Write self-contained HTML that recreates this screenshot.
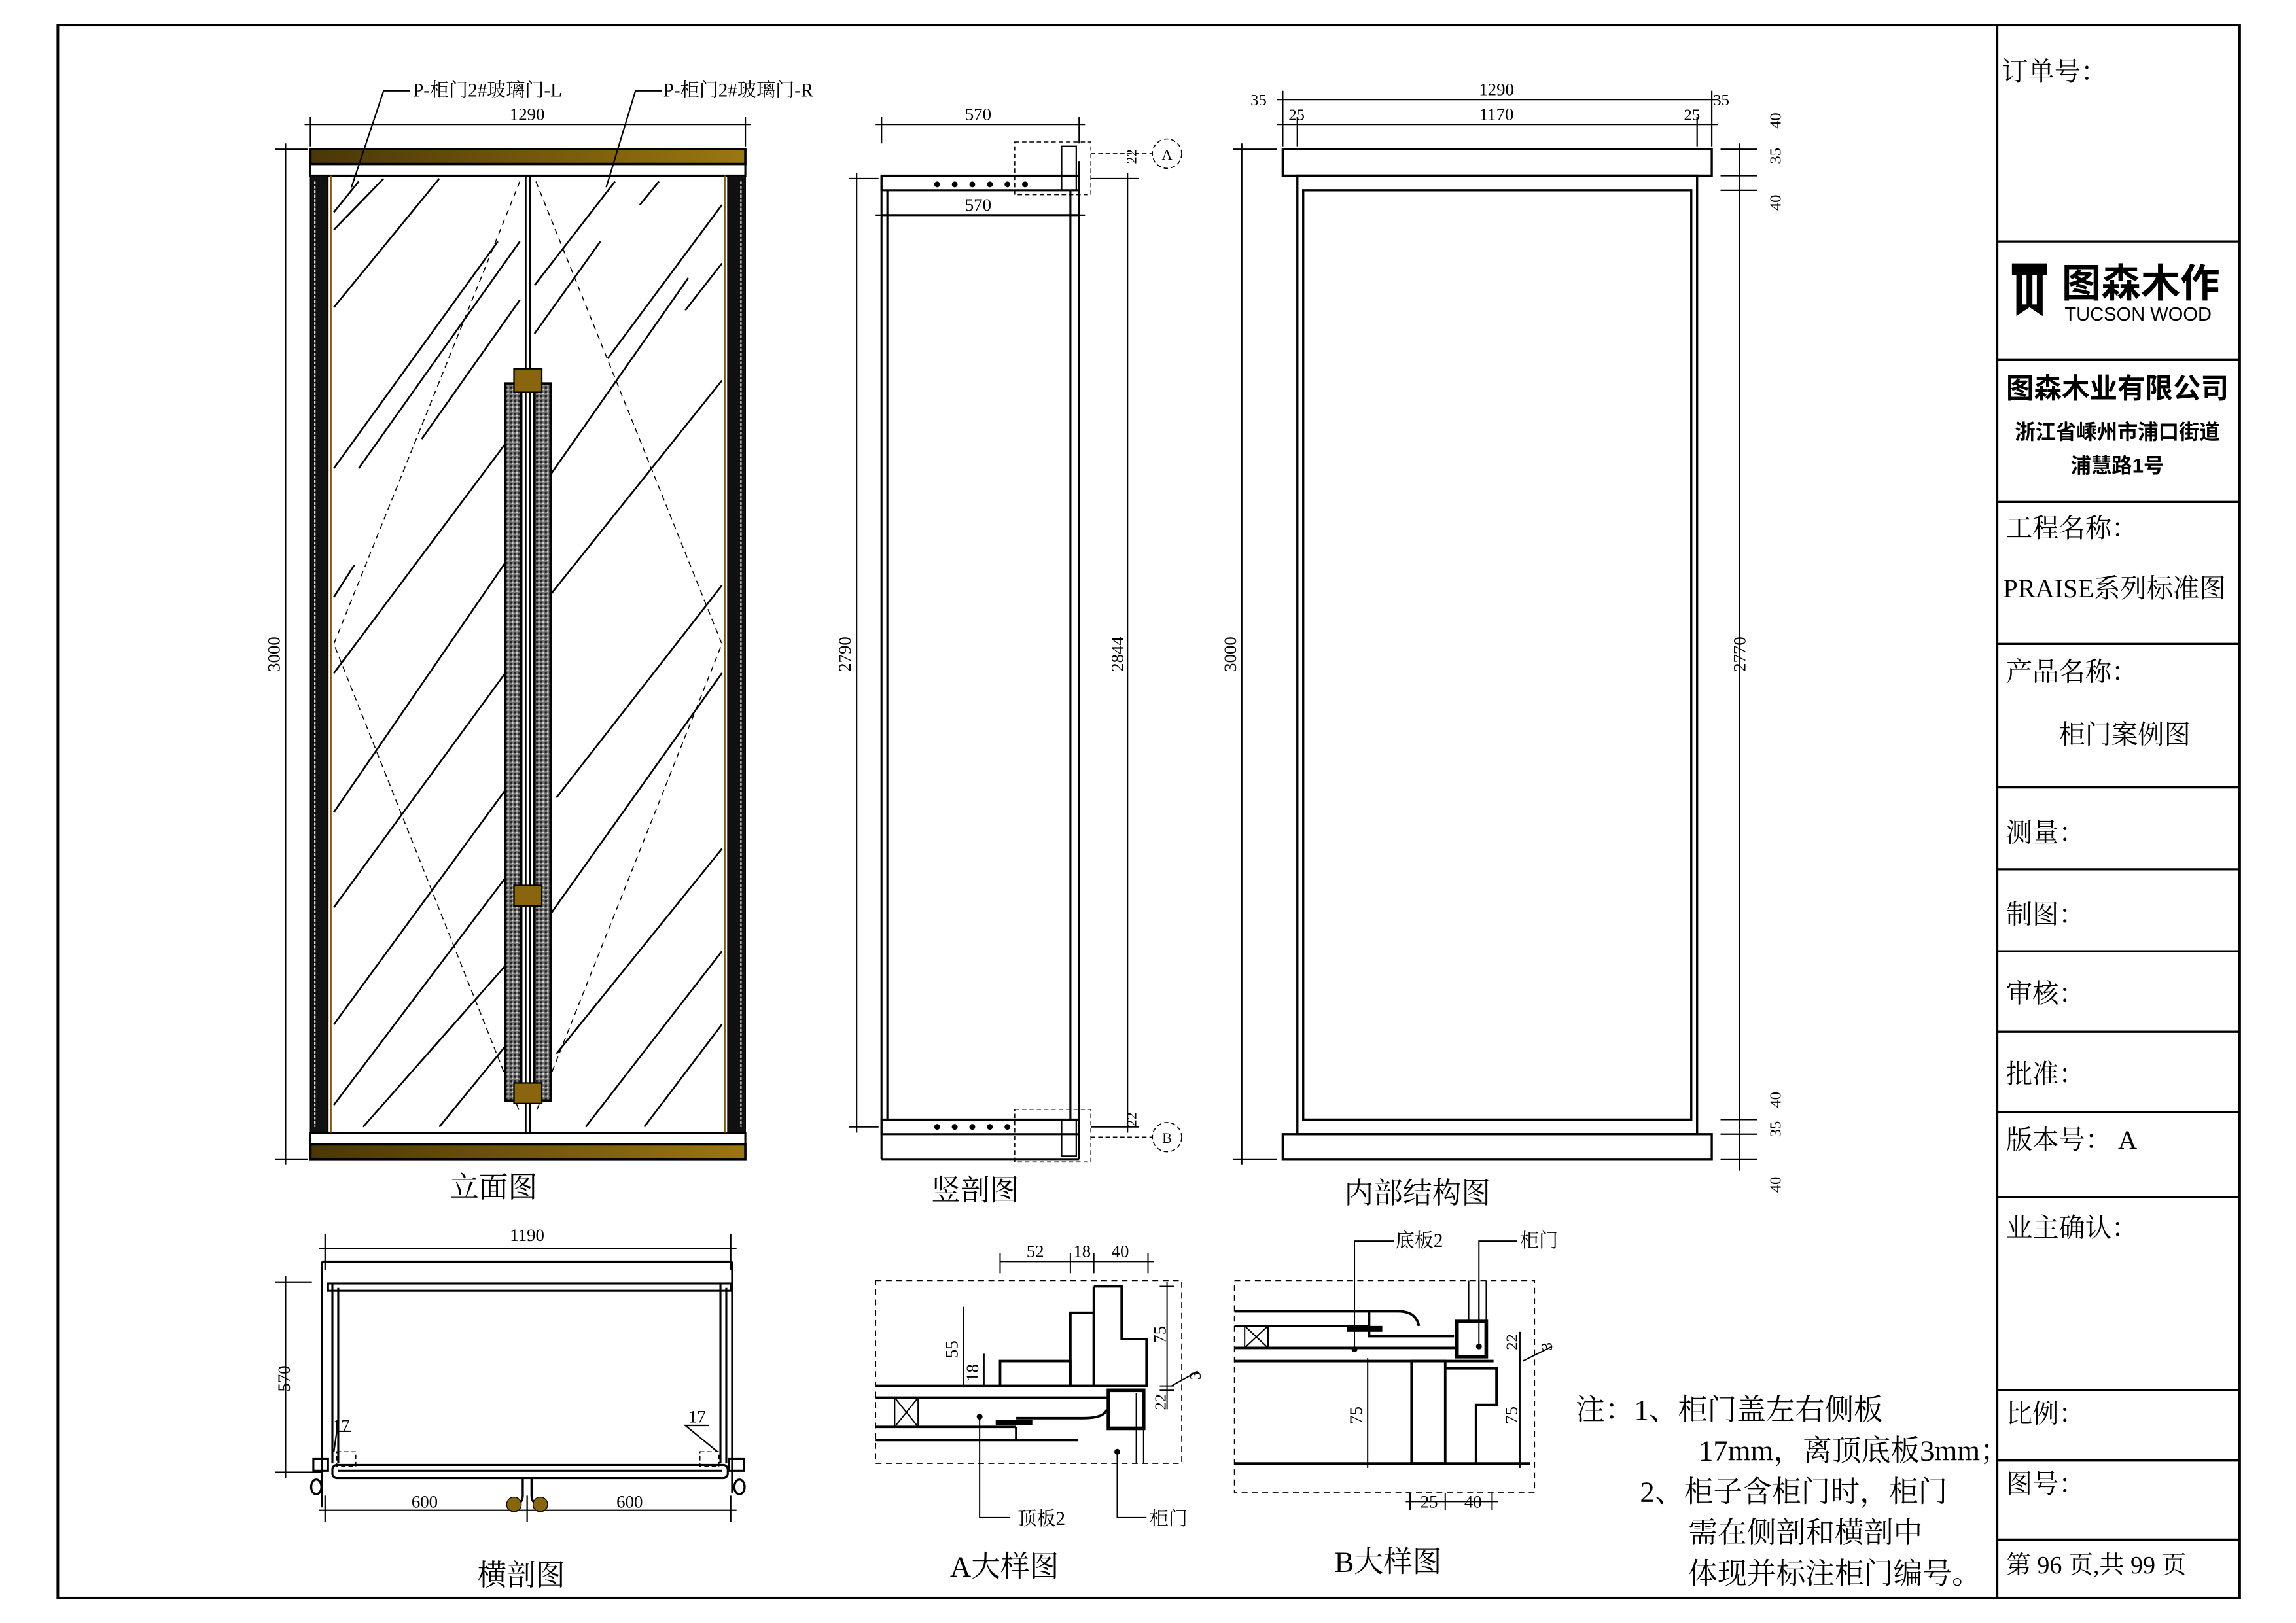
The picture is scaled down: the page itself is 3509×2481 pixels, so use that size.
<!DOCTYPE html>
<html><head><meta charset="utf-8"><style>
html,body{margin:0;padding:0;background:#fff;}
svg{display:block;}
text{font-family:"Liberation Serif","Noto Serif CJK SC",serif;fill:#000;}
.s{font-family:"Liberation Sans","Noto Sans CJK SC",sans-serif;}
</style></head><body>
<svg width="3509" height="2481" viewBox="0 0 1568 1109" preserveAspectRatio="none" xmlns="http://www.w3.org/2000/svg">
<defs>
<linearGradient id="g" x1="0" x2="1"><stop offset="0" stop-color="#4a3608"/><stop offset="1" stop-color="#9a7710"/></linearGradient>
<pattern id="sp" width="3" height="3" patternUnits="userSpaceOnUse"><rect width="3" height="3" fill="#777"/><rect width="1.5" height="1.5" fill="#222"/><rect x="1.5" y="1.5" width="1" height="1" fill="#ddd"/></pattern>
</defs>
<rect width="1568" height="1109" fill="#fff"/>
<!-- frame -->
<rect x="39.5" y="17" width="1490" height="1075" fill="none" stroke="#000" stroke-width="1.8"/>
<g stroke="#000" stroke-width="1.5">
<line x1="1364" y1="17" x2="1364" y2="1092"/>
<line x1="1364" y1="165" x2="1529" y2="165"/>
<line x1="1364" y1="246" x2="1529" y2="246"/>
<line x1="1364" y1="343" x2="1529" y2="343"/>
<line x1="1364" y1="440" x2="1529" y2="440"/>
<line x1="1364" y1="538" x2="1529" y2="538"/>
<line x1="1364" y1="594" x2="1529" y2="594"/>
<line x1="1364" y1="650" x2="1529" y2="650"/>
<line x1="1364" y1="705" x2="1529" y2="705"/>
<line x1="1364" y1="760" x2="1529" y2="760"/>
<line x1="1364" y1="818" x2="1529" y2="818"/>
<line x1="1364" y1="950" x2="1529" y2="950"/>
<line x1="1364" y1="998" x2="1529" y2="998"/>
<line x1="1364" y1="1052" x2="1529" y2="1052"/>
</g>
<!-- title block text -->
<text x="1367" y="55" font-size="18">订单号：</text>
<path d="M1374,180 h24 v8 h-3 v28 l-9,-6 l-9,6 v-28 h-3z" fill="#000"/>
<rect x="1381" y="188" width="3" height="20" fill="#fff"/><rect x="1388" y="188" width="3" height="20" fill="#fff"/>
<text x="1408" y="203" font-size="27" font-weight="bold" class="s">图森木作</text>
<text x="1410" y="219" font-size="13" class="s">TUCSON WOOD</text>
<text x="1446" y="272" font-size="19" font-weight="bold" text-anchor="middle" class="s">图森木业有限公司</text>
<text x="1446" y="300" font-size="14" font-weight="bold" text-anchor="middle" class="s">浙江省嵊州市浦口街道</text>
<text x="1446" y="323" font-size="14" font-weight="bold" text-anchor="middle" class="s">浦慧路1号</text>
<text x="1370" y="367" font-size="18">工程名称：</text>
<text x="1368" y="408" font-size="18">PRAISE系列标准图</text>
<text x="1370" y="465" font-size="18">产品名称：</text>
<text x="1451" y="508" font-size="18" text-anchor="middle">柜门案例图</text>
<text x="1370" y="575" font-size="18">测量：</text>
<text x="1370" y="631" font-size="18">制图：</text>
<text x="1370" y="685" font-size="18">审核：</text>
<text x="1370" y="740" font-size="18">批准：</text>
<text x="1370" y="785" font-size="18">版本号：  A</text>
<text x="1370" y="845" font-size="18">业主确认：</text>
<text x="1370" y="972" font-size="18">比例：</text>
<text x="1370" y="1020" font-size="18">图号：</text>
<text x="1370" y="1075" font-size="17">第 96 页,共 99 页</text>

<!-- ===== 立面图 ===== -->
<g stroke="#000" fill="none">
<rect x="212" y="102" width="297" height="10" fill="url(#g)" stroke-width="1.6"/>
<rect x="212" y="112" width="297" height="8" stroke-width="1.4"/>
<rect x="212" y="782" width="297" height="10" fill="url(#g)" stroke-width="1.6"/>
<rect x="212" y="774" width="297" height="8" stroke-width="1.4"/>
<rect x="212" y="120" width="12" height="654" fill="#111" stroke-width="0.8"/>
<rect x="497" y="120" width="12" height="654" fill="#111" stroke-width="0.8"/>
<line x1="215" y1="124" x2="215" y2="770" stroke="#ddd" stroke-width="1" stroke-dasharray="2 1"/>
<line x1="506" y1="124" x2="506" y2="770" stroke="#ddd" stroke-width="1" stroke-dasharray="2 1"/>
<line x1="226" y1="120" x2="226" y2="774" stroke="#7a5a10" stroke-width="1"/>
<line x1="495" y1="120" x2="495" y2="774" stroke="#7a5a10" stroke-width="1"/>
<line x1="359" y1="120" x2="359" y2="774" stroke-width="1.2"/>
<line x1="362" y1="120" x2="362" y2="774" stroke-width="1.2"/>
<g stroke-width="1.2">
<line x1="228" y1="145" x2="245" y2="124"/><line x1="228" y1="157" x2="262" y2="122"/><line x1="228" y1="210" x2="300" y2="122"/>
<line x1="228" y1="320" x2="340" y2="165"/><line x1="245" y1="320" x2="355" y2="165"/><line x1="288" y1="300" x2="355" y2="205"/>
<line x1="228" y1="460" x2="355" y2="290"/><line x1="228" y1="555" x2="355" y2="370"/><line x1="228" y1="620" x2="345" y2="460"/>
<line x1="228" y1="700" x2="345" y2="540"/><line x1="228" y1="755" x2="345" y2="600"/><line x1="248" y1="770" x2="345" y2="660"/>
<line x1="228" y1="408" x2="242" y2="386"/><line x1="300" y1="770" x2="345" y2="715"/>
<line x1="365" y1="228" x2="410" y2="165"/><line x1="372" y1="330" x2="470" y2="190"/><line x1="365" y1="420" x2="493" y2="260"/>
<line x1="380" y1="545" x2="493" y2="400"/><line x1="365" y1="640" x2="493" y2="460"/><line x1="380" y1="720" x2="493" y2="580"/>
<line x1="400" y1="770" x2="493" y2="650"/><line x1="440" y1="770" x2="493" y2="700"/><line x1="415" y1="245" x2="493" y2="140"/>
<line x1="437" y1="140" x2="450" y2="124"/><line x1="365" y1="195" x2="420" y2="124"/><line x1="468" y1="212" x2="493" y2="180"/>
</g>
<g stroke-width="0.7" stroke-dasharray="4 3">
<polyline points="355,124 228,440 355,760"/><polyline points="366,124 493,440 366,760"/>
</g>
<rect x="345" y="262" width="11" height="490" fill="url(#sp)" stroke-width="1.6"/>
<rect x="365" y="262" width="11" height="490" fill="url(#sp)" stroke-width="1.6"/>
<rect x="351" y="252" width="19" height="16" fill="#8a6510" stroke-width="1"/>
<rect x="351" y="605" width="19" height="14" fill="#8a6510" stroke-width="1"/>
<rect x="351" y="740" width="19" height="14" fill="#8a6510" stroke-width="1"/>
<!-- dims -->
<g stroke-width="1"><line x1="208" y1="85" x2="513" y2="85"/><line x1="212" y1="80" x2="212" y2="100"/><line x1="509" y1="80" x2="509" y2="100"/>
<line x1="195" y1="98" x2="195" y2="796"/><line x1="188" y1="102" x2="210" y2="102"/><line x1="188" y1="792" x2="210" y2="792"/>
<polyline points="240,128 262,62 280,62"/><polyline points="414,128 434,62 452,62"/></g>
</g>
<text x="360" y="82" font-size="12" text-anchor="middle">1290</text>
<text x="282" y="66" font-size="13">P-柜门2#玻璃门-L</text>
<text x="453" y="66" font-size="13">P-柜门2#玻璃门-R</text>
<text x="191" y="447" font-size="12" text-anchor="middle" transform="rotate(-90 191 447)">3000</text>
<text x="337" y="818" font-size="20" text-anchor="middle">立面图</text>

<!-- ===== 竖剖图 ===== -->
<g stroke="#000" fill="none" stroke-width="1.4">
<rect x="602" y="120" width="135" height="10"/>
<rect x="602" y="765" width="135" height="10"/>
<line x1="602" y1="120" x2="602" y2="792"/><line x1="606" y1="130" x2="606" y2="765"/>
<line x1="731" y1="130" x2="731" y2="765"/><line x1="737" y1="110" x2="737" y2="792"/>
<line x1="602" y1="147" x2="737" y2="147"/><line x1="602" y1="792" x2="737" y2="792"/>
<rect x="725" y="100" width="10" height="30" stroke-width="1"/>
<rect x="725" y="765" width="10" height="25" stroke-width="1"/>
<g stroke-width="0.7" stroke-dasharray="3 2"><rect x="693" y="97" width="52" height="36"/><rect x="693" y="758" width="52" height="36"/>
<circle cx="797" cy="105" r="10"/><circle cx="797" cy="777" r="10"/><line x1="745" y1="105" x2="787" y2="105"/><line x1="745" y1="777" x2="787" y2="777"/></g>
<g stroke-width="1"><line x1="598" y1="85" x2="741" y2="85"/><line x1="602" y1="80" x2="602" y2="98"/><line x1="737" y1="80" x2="737" y2="98"/>
<line x1="598" y1="147" x2="741" y2="147"/>
<line x1="585" y1="118" x2="585" y2="774"/><line x1="580" y1="122" x2="600" y2="122"/><line x1="580" y1="770" x2="600" y2="770"/>
<line x1="770" y1="118" x2="770" y2="774"/><line x1="745" y1="122" x2="778" y2="122"/><line x1="745" y1="770" x2="778" y2="770"/></g>
</g>
<g fill="#000"><circle cx="640" cy="126" r="2"/><circle cx="652" cy="126" r="2"/><circle cx="664" cy="126" r="2"/><circle cx="676" cy="126" r="2"/><circle cx="688" cy="126" r="2"/><circle cx="700" cy="126" r="2"/>
<circle cx="640" cy="770" r="2"/><circle cx="652" cy="770" r="2"/><circle cx="664" cy="770" r="2"/><circle cx="676" cy="770" r="2"/><circle cx="688" cy="770" r="2"/></g>
<text x="668" y="82" font-size="12" text-anchor="middle">570</text>
<text x="668" y="144" font-size="12" text-anchor="middle">570</text>
<text x="581" y="447" font-size="12" text-anchor="middle" transform="rotate(-90 581 447)">2790</text>
<text x="767" y="447" font-size="12" text-anchor="middle" transform="rotate(-90 767 447)">2844</text>
<text x="776" y="112" font-size="10" transform="rotate(-90 776 112)">22</text>
<text x="776" y="770" font-size="10" transform="rotate(-90 776 770)">22</text>
<text x="797" y="109" font-size="10" text-anchor="middle">A</text>
<text x="797" y="781" font-size="10" text-anchor="middle">B</text>
<text x="666" y="820" font-size="20" text-anchor="middle">竖剖图</text>

<!-- ===== 内部结构图 ===== -->
<g stroke="#000" fill="none" stroke-width="1.5">
<rect x="876" y="102" width="293" height="18"/>
<rect x="876" y="775" width="293" height="17"/>
<rect x="886" y="120" width="273" height="655"/>
<rect x="890" y="130" width="265" height="635"/>
<g stroke-width="1"><line x1="872" y1="68" x2="1173" y2="68"/><line x1="872" y1="85" x2="1173" y2="85"/>
<line x1="876" y1="62" x2="876" y2="100"/><line x1="886" y1="80" x2="886" y2="100"/><line x1="1159" y1="80" x2="1159" y2="100"/><line x1="1169" y1="62" x2="1169" y2="100"/>
<line x1="848" y1="98" x2="848" y2="796"/><line x1="842" y1="102" x2="872" y2="102"/><line x1="842" y1="792" x2="872" y2="792"/>
<line x1="1188" y1="98" x2="1188" y2="780"/><line x1="1175" y1="102" x2="1200" y2="102"/><line x1="1175" y1="120" x2="1200" y2="120"/><line x1="1175" y1="130" x2="1200" y2="130"/>
<line x1="1175" y1="765" x2="1200" y2="765"/><line x1="1175" y1="775" x2="1200" y2="775"/><line x1="1175" y1="792" x2="1200" y2="792"/>
<line x1="1188" y1="775" x2="1188" y2="800"/></g>
</g>
<text x="1022" y="65" font-size="12" text-anchor="middle">1290</text>
<text x="1022" y="82" font-size="12" text-anchor="middle">1170</text>
<text x="854" y="72" font-size="11">35</text><text x="880" y="82" font-size="11">25</text>
<text x="1150" y="82" font-size="11">25</text><text x="1170" y="72" font-size="11">35</text>
<text x="844" y="447" font-size="12" text-anchor="middle" transform="rotate(-90 844 447)">3000</text>
<text x="1192" y="447" font-size="12" text-anchor="middle" transform="rotate(-90 1192 447)">2770</text>
<text x="1216" y="88" font-size="11" transform="rotate(-90 1216 88)">40</text>
<text x="1216" y="112" font-size="11" transform="rotate(-90 1216 112)">35</text>
<text x="1216" y="144" font-size="11" transform="rotate(-90 1216 144)">40</text>
<text x="1216" y="757" font-size="11" transform="rotate(-90 1216 757)">40</text>
<text x="1216" y="777" font-size="11" transform="rotate(-90 1216 777)">35</text>
<text x="1216" y="815" font-size="11" transform="rotate(-90 1216 815)">40</text>
<text x="968" y="822" font-size="20" text-anchor="middle">内部结构图</text>

<!-- ===== 横剖图 ===== -->
<g stroke="#000" fill="none" stroke-width="1.4">
<line x1="220" y1="862" x2="500" y2="862"/>
<line x1="220" y1="862" x2="220" y2="1030"/><line x1="500" y1="862" x2="500" y2="1020"/>
<rect x="224" y="877" width="275" height="5"/>
<line x1="227" y1="877" x2="227" y2="1000"/><line x1="231" y1="880" x2="231" y2="1000"/>
<line x1="492" y1="877" x2="492" y2="1000"/><line x1="496" y1="880" x2="496" y2="1000"/>
<rect x="227" y="1001" width="270" height="9" rx="3"/>
<line x1="231" y1="1005" x2="493" y2="1005"/>
<rect x="214" y="997" width="10" height="8"/><rect x="498" y="997" width="10" height="8"/>
<g stroke-width="1"><line x1="218" y1="853" x2="503" y2="853"/><line x1="222" y1="843" x2="222" y2="868"/><line x1="499" y1="843" x2="499" y2="868"/>
<line x1="195" y1="872" x2="195" y2="1010"/><line x1="188" y1="876" x2="213" y2="876"/><line x1="188" y1="1006" x2="220" y2="1006"/>
<line x1="218" y1="1032" x2="503" y2="1032"/><line x1="222" y1="1022" x2="222" y2="1040"/><line x1="360" y1="1022" x2="360" y2="1040"/><line x1="499" y1="1022" x2="499" y2="1040"/>
<polyline points="228,992 230,978 240,978"/><polyline points="484,974 468,974 490,992"/></g>
<g stroke-width="0.7" stroke-dasharray="3 2"><rect x="230" y="992" width="13" height="10"/><rect x="478" y="992" width="13" height="10"/></g>
</g>
<path d="M357,1010 v12 q0,6 -8,8 M363,1010 v12 q0,6 8,8" stroke="#000" stroke-width="1.5" fill="none"/>
<circle cx="351" cy="1028" r="5" fill="#8a6510" stroke="#000" stroke-width="0.6"/><circle cx="369" cy="1028" r="5" fill="#8a6510" stroke="#000" stroke-width="0.6"/>
<ellipse cx="216" cy="1016" rx="3.5" ry="5" fill="none" stroke="#000" stroke-width="1.5"/><ellipse cx="505" cy="1016" rx="3.5" ry="5" fill="none" stroke="#000" stroke-width="1.5"/>
<text x="360" y="848" font-size="12" text-anchor="middle">1190</text>
<text x="198" y="942" font-size="12" text-anchor="middle" transform="rotate(-90 198 942)">570</text>
<text x="233" y="978" font-size="12" text-anchor="middle">17</text>
<text x="476" y="972" font-size="12" text-anchor="middle">17</text>
<text x="290" y="1030" font-size="12" text-anchor="middle">600</text>
<text x="430" y="1030" font-size="12" text-anchor="middle">600</text>
<text x="356" y="1083" font-size="20" text-anchor="middle">横剖图</text>

<!-- ===== A大样图 ===== -->
<g stroke="#000" fill="none">
<rect x="598" y="875" width="209" height="125" stroke-width="0.7" stroke-dasharray="4 3"/>
<g stroke-width="1.7">
<polyline points="747,879 766,879 766,915 783,915 783,947 747,947 747,879"/>
<rect x="731" y="897" width="16" height="50"/>
<rect x="683" y="930" width="48" height="17"/>
<line x1="598" y1="947" x2="783" y2="947"/>
<line x1="598" y1="955" x2="756" y2="955"/>
<line x1="598" y1="975" x2="694" y2="975"/><line x1="598" y1="984" x2="736" y2="984"/>
<path d="M694,975 v9 M694,969 h46 q14,0 16,-6"/>
<rect x="757" y="950" width="24" height="26" stroke-width="2.5"/>
</g>
<g stroke-width="0.9">
<rect x="611" y="955" width="16" height="20"/><line x1="611" y1="955" x2="627" y2="975"/><line x1="627" y1="955" x2="611" y2="975"/>
<line x1="776" y1="952" x2="776" y2="1000"/><line x1="781" y1="952" x2="781" y2="1000"/>
<line x1="683" y1="862" x2="788" y2="862"/><line x1="683" y1="856" x2="683" y2="870"/><line x1="731" y1="856" x2="731" y2="870"/><line x1="747" y1="856" x2="747" y2="870"/><line x1="784" y1="856" x2="784" y2="870"/>
<line x1="797" y1="876" x2="797" y2="963"/><line x1="792" y1="879" x2="802" y2="879"/><line x1="792" y1="947" x2="802" y2="947"/><line x1="792" y1="950" x2="802" y2="950"/>
<line x1="658" y1="893" x2="658" y2="947"/><line x1="672" y1="925" x2="672" y2="947"/>
<polyline points="669,967 669,1037 690,1037"/><polyline points="763,992 763,1037 783,1037"/>
<line x1="800" y1="947" x2="818" y2="937"/>
</g>
</g>
<rect x="680" y="970" width="25" height="4" fill="#000"/>
<circle cx="669" cy="968" r="2" fill="#000"/><circle cx="763" cy="992" r="2" fill="#000"/>
<text x="707" y="859" font-size="12" text-anchor="middle">52</text>
<text x="739" y="859" font-size="12" text-anchor="middle">18</text>
<text x="765" y="859" font-size="12" text-anchor="middle">40</text>
<text x="796" y="912" font-size="12" text-anchor="middle" transform="rotate(-90 796 912)">75</text>
<text x="654" y="922" font-size="12" text-anchor="middle" transform="rotate(-90 654 922)">55</text>
<text x="668" y="938" font-size="12" text-anchor="middle" transform="rotate(-90 668 938)">18</text>
<text x="796" y="958" font-size="11" text-anchor="middle" transform="rotate(-90 796 958)">22</text>
<text x="820" y="940" font-size="11" text-anchor="middle" transform="rotate(-90 820 940)">3</text>
<text x="695" y="1042" font-size="13">顶板2</text>
<text x="785" y="1042" font-size="13">柜门</text>
<text x="686" y="1077" font-size="20" text-anchor="middle">A大样图</text>

<!-- ===== B大样图 ===== -->
<g stroke="#000" fill="none">
<rect x="843" y="875" width="205" height="145" stroke-width="0.7" stroke-dasharray="4 3"/>
<g stroke-width="1.7">
<line x1="843" y1="896" x2="935" y2="896"/><path d="M935,896 h20 q12,0 14,10"/>
<line x1="843" y1="906" x2="935" y2="906"/>
<polyline points="935,896 935,913 993,913"/>
<line x1="843" y1="921" x2="995" y2="921"/>
<line x1="843" y1="930" x2="1020" y2="930"/>
<rect x="995" y="903" width="20" height="24" stroke-width="2.5"/>
<line x1="843" y1="1000" x2="1045" y2="1000"/>
<rect x="964" y="930" width="23" height="70"/>
<polyline points="987,935 1022,935 1022,960 1008,960 1008,1000"/>
</g>
<g stroke-width="0.9">
<rect x="850" y="906" width="16" height="15"/><line x1="850" y1="906" x2="866" y2="921"/><line x1="866" y1="906" x2="850" y2="921"/>
<line x1="1003" y1="875" x2="1003" y2="903"/><line x1="1015" y1="875" x2="1015" y2="903"/><line x1="1010" y1="875" x2="1010" y2="903"/>
<line x1="934" y1="928" x2="934" y2="1003"/><line x1="1038" y1="928" x2="1038" y2="1003"/>
<line x1="1038" y1="910" x2="1038" y2="930"/><line x1="1040" y1="930" x2="1060" y2="920"/>
<polyline points="925,922 925,848 952,848"/><polyline points="1010,920 1010,848 1036,848"/>
<line x1="960" y1="1026" x2="1023" y2="1026"/><line x1="963" y1="1020" x2="963" y2="1032"/><line x1="987" y1="1020" x2="987" y2="1032"/><line x1="1019" y1="1020" x2="1019" y2="1032"/>
</g>
</g>
<rect x="920" y="906" width="24" height="4" fill="#000"/>
<circle cx="925" cy="922" r="2" fill="#000"/><circle cx="1010" cy="920" r="2" fill="#000"/>
<text x="953" y="852" font-size="13">底板2</text>
<text x="1038" y="852" font-size="13">柜门</text>
<text x="930" y="967" font-size="12" text-anchor="middle" transform="rotate(-90 930 967)">75</text>
<text x="1036" y="967" font-size="12" text-anchor="middle" transform="rotate(-90 1036 967)">75</text>
<text x="1036" y="917" font-size="11" text-anchor="middle" transform="rotate(-90 1036 917)">22</text>
<text x="1060" y="920" font-size="11" text-anchor="middle" transform="rotate(-90 1060 920)">3</text>
<text x="976" y="1030" font-size="12" text-anchor="middle">25</text>
<text x="1006" y="1030" font-size="12" text-anchor="middle">40</text>
<text x="948" y="1074" font-size="20" text-anchor="middle">B大样图</text>

<!-- notes -->
<text x="1076" y="970" font-size="20">注：1、柜门盖左右侧板</text>
<text x="1160" y="998" font-size="20">17mm，离顶底板3mm；</text>
<text x="1120" y="1026" font-size="20">2、柜子含柜门时，柜门</text>
<text x="1153" y="1054" font-size="20">需在侧剖和横剖中</text>
<text x="1153" y="1082" font-size="20">体现并标注柜门编号。</text>
</svg>
</body></html>
